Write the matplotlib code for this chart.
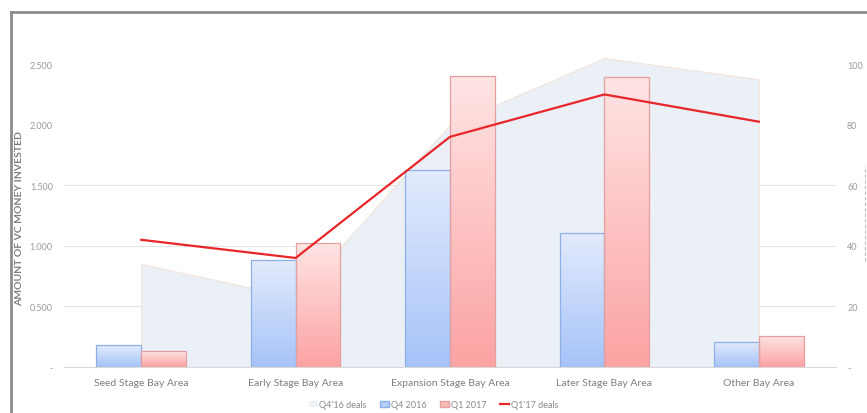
import numpy as np
import matplotlib.pyplot as plt
from matplotlib.patches import Patch
from matplotlib.lines import Line2D
from matplotlib.ticker import FuncFormatter

plt.rcParams['font.family'] = ['Lato', 'DejaVu Sans']

categories = ["Seed Stage Bay Area", "Early Stage Bay Area", "Expansion Stage Bay Area",
              "Later Stage Bay Area", "Other Bay Area"]
q4_2016 = [0.18, 0.88, 1.63, 1.11, 0.21]
q1_2017 = [0.13, 1.02, 2.40, 2.39, 0.26]
q4_16_deals = [34, 23, 80, 102, 95]
q1_17_deals = [42, 36, 76, 90, 81]

x = np.arange(len(categories))
w = 0.29

fig = plt.figure(figsize=(8.67, 4.14), dpi=100)
ax = fig.add_axes([64 / 867, 46 / 414, 772 / 867, 318 / 414])
ax2 = ax.twinx()
ax3 = ax.twinx()
ax.set_zorder(ax2.get_zorder() + 1)
ax3.set_zorder(ax.get_zorder() + 1)
ax.patch.set_visible(False)
ax3.patch.set_visible(False)

# deals area (right axis) behind everything
ax2.fill_between(x, q4_16_deals, color='#ebeff6', edgecolor='#f3e4da', linewidth=0.8, zorder=2)
ax2.set_ylim(0, 105)
ax2.set_yticks([0, 20, 40, 60, 80, 100])
ax2.yaxis.set_major_formatter(FuncFormatter(lambda v, p: '-' if v == 0 else f'{int(v)}'))
ax2.grid(axis='y', color='#e4e4e4', linewidth=0.8, zorder=1)
for t, gl in zip(ax2.get_yticks(), ax2.get_ygridlines()):
    if t > 60:
        gl.set_visible(False)
ax2.set_axisbelow(True)

# gradient bars
def grad_bars(xs, vals, top, bottom, edge):
    bars = ax.bar(xs, vals, w, color='none', edgecolor=edge, linewidth=0.9, zorder=3)
    cm = np.array([plt.matplotlib.colors.to_rgb(top), plt.matplotlib.colors.to_rgb(bottom)])
    g = np.linspace(0, 1, 64)[:, None]
    img = (cm[0] * (1 - g) + cm[1] * g)[:, None, :]
    for b in bars:
        bx, by = b.get_x(), b.get_y()
        im = ax.imshow(img, extent=[bx, bx + b.get_width(), by, by + b.get_height()],
                       aspect='auto', zorder=2.5, interpolation='bilinear')
        im.set_clip_path(b)
    return bars

grad_bars(x - w / 2, q4_2016, '#e2ebfc', '#a6c3f8', '#8fb0e6')
grad_bars(x + w / 2, q1_2017, '#ffe4e4', '#fca3a3', '#e4a0a0')
ax.set_xlim(-0.5, 4.5)
ax.set_ylim(0, 2.625)
ax.set_yticks([0, 0.5, 1.0, 1.5, 2.0, 2.5])
ax.yaxis.set_major_formatter(FuncFormatter(lambda v, p: '-' if v == 0 else f'{v:.3f}'))

# deals line
ax3.plot(x, q1_17_deals, color='#e8262a', linewidth=1.6, zorder=5)
ax3.set_ylim(ax2.get_ylim())
ax3.set_yticks([])

ax.set_xticks(x)
ax.set_xticklabels(categories, fontsize=7.5, color='#7f7f7f')
for a in (ax, ax2, ax3):
    for s in a.spines.values():
        s.set_visible(False)
ax.spines['bottom'].set_visible(True)
ax.spines['bottom'].set_color('#d9d9d9')
ax.tick_params(axis='x', length=0, pad=8)
ax.tick_params(axis='y', length=0, labelsize=6.5, labelcolor='#9a9a9a', pad=8)
ax2.tick_params(axis='y', length=0, labelsize=6.5, labelcolor='#9a9a9a', pad=8)
ax.set_ylabel("AMOUNT OF VC MONEY INVESTED", fontsize=7.5, fontweight='bold', color='#7f7f7f')
ax.yaxis.set_label_coords(-0.052, 0.47)

handles = [Patch(facecolor='#eef1f7', edgecolor='none', label="Q4'16 deals"),
           Patch(facecolor='#b9d0f8', edgecolor='#8fb0e6', label="Q4 2016"),
           Patch(facecolor='#fdb8b8', edgecolor='#e4a0a0', label="Q1 2017"),
           Line2D([], [], color='#e8262a', linewidth=1.6, label="Q1'17 deals")]
fig.legend(handles=handles, loc='center', bbox_to_anchor=(0.5, 8 / 414), ncol=4, frameon=False,
           fontsize=6.5, labelcolor='#8a8a8a', handlelength=1.0, handleheight=0.6,
           handletextpad=0.2, columnspacing=1.5)

# outer frame of the original screenshot
fig.add_artist(Line2D([11 / 867, 11 / 867], [0, 1 - 13 / 414], color='#8c8c8c', linewidth=2))
fig.add_artist(Line2D([11 / 867, 1], [1 - 13 / 414, 1 - 13 / 414], color='#8c8c8c', linewidth=2))
fig.add_artist(Line2D([865 / 867, 865 / 867], [1 - 262 / 414, 1 - 167 / 414], color='#bdbdbd',
                      linewidth=0.8, linestyle=(0, (3, 2))))

fig.savefig('out.png', dpi=100)
